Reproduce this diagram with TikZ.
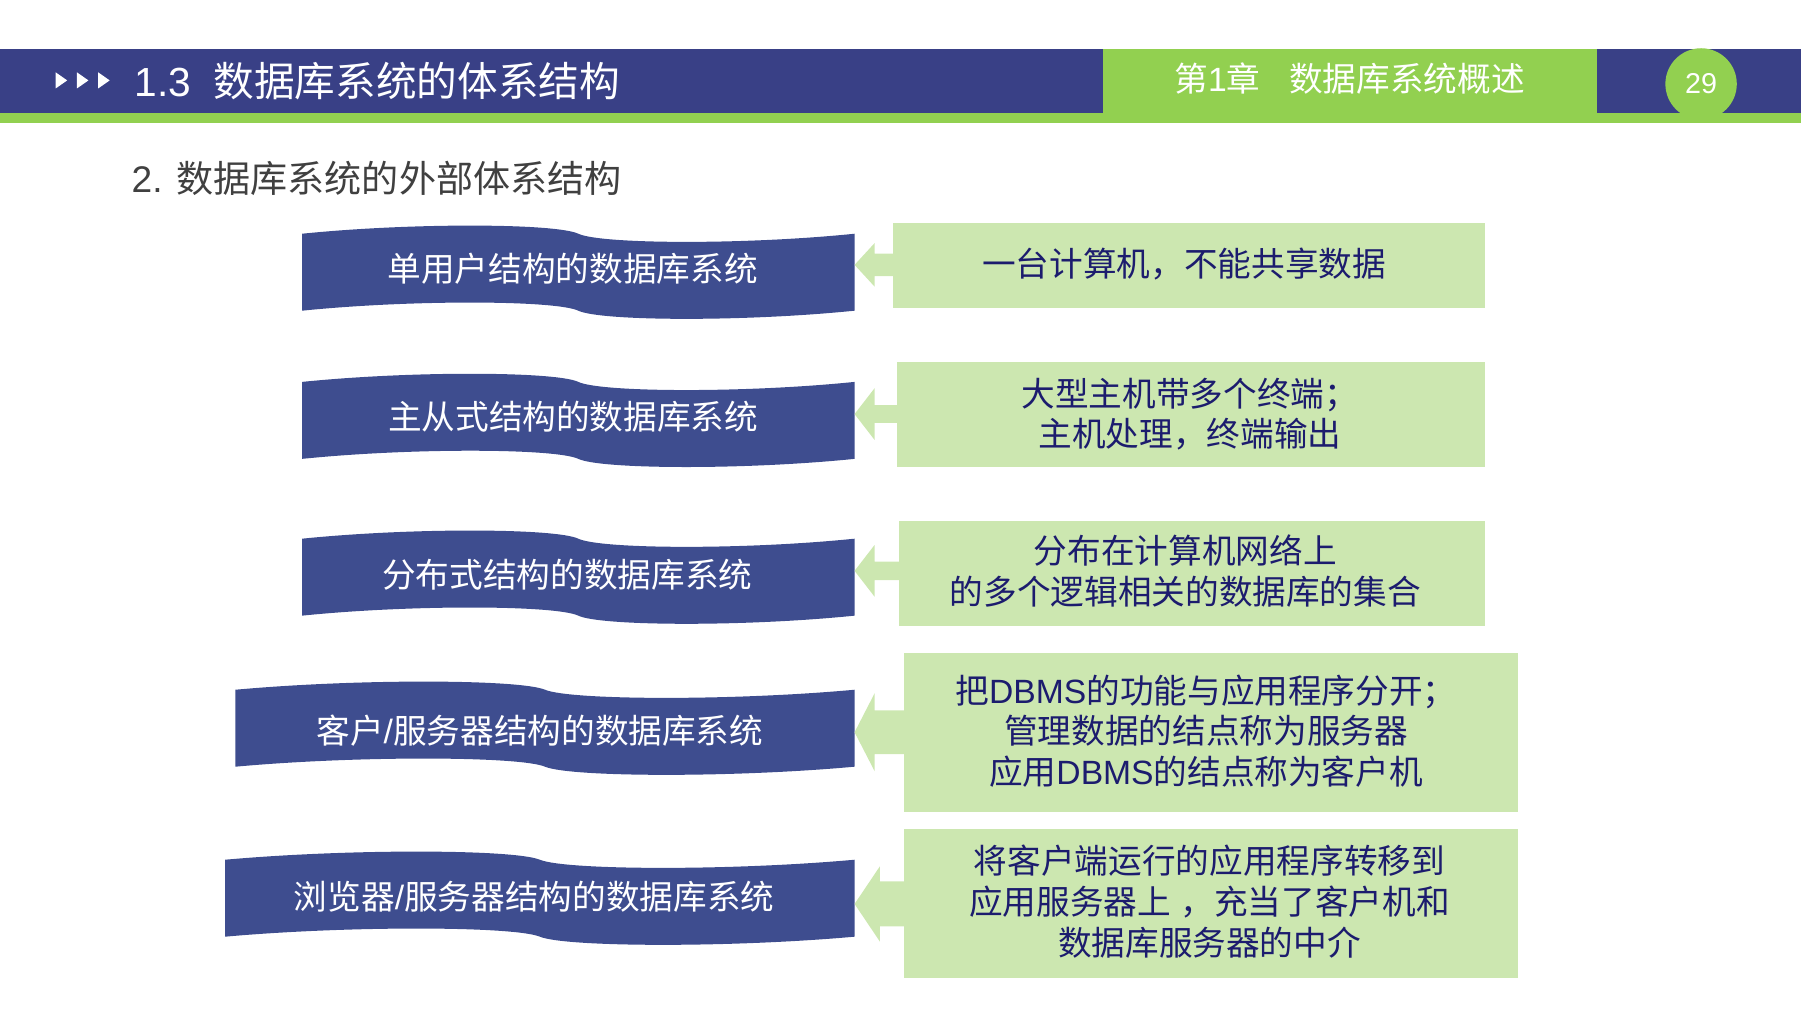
\documentclass[tikz,border=0pt]{standalone}
\usepackage{fontspec}
\setmainfont{Noto Sans CJK SC}
\newfontfamily\latf{Liberation Sans}
\definecolor{hdrblue}{HTML}{394086}
\definecolor{bnblue}{HTML}{3E4D8F}
\definecolor{hgreen}{HTML}{92D050}
\definecolor{lgreen}{HTML}{CCE7B0}
\definecolor{navytxt}{HTML}{1C1C6E}
\definecolor{subgray}{HTML}{404040}
\newcommand\wavebanner[5]{%
  \fill[bannerfill] (#1,#3)
    .. controls ({#1+0.2*(#2-#1)},{#3-1.4*#5}) and ({#1+0.46*(#2-#1)},{#3-1.3*#5}) .. ({#1+0.5*(#2-#1)},#3)
    .. controls ({#1+0.54*(#2-#1)},{#3+1.3*#5}) and ({#1+0.8*(#2-#1)},{#3+1.4*#5}) .. (#2,#3)
    -- (#2,{#3+#4})
    .. controls ({#1+0.8*(#2-#1)},{#3+#4+1.4*#5}) and ({#1+0.54*(#2-#1)},{#3+#4+1.3*#5}) .. ({#1+0.5*(#2-#1)},{#3+#4})
    .. controls ({#1+0.46*(#2-#1)},{#3+#4-1.3*#5}) and ({#1+0.2*(#2-#1)},{#3+#4-1.4*#5}) .. (#1,{#3+#4})
    -- cycle;}
% tip coordinate name, head length, head half height, shaft half height, shaft length
\newcommand\blockarrow[5]{%
  \fill[garrow] (#1) -- ++(#2,-#3) -- ++(0,{#3-#4}) -- ++(#5,0) -- ++(0,{2*#4}) -- ++(-#5,0) -- ++(0,{#3-#4}) -- cycle;}
\begin{document}
\begin{tikzpicture}[x=1pt,y=-1pt,
  bannerfill/.style={fill=bnblue},
  garrow/.style={fill=lgreen},
  gbox/.style={fill=lgreen,draw=none,inner sep=0pt},
  btext/.style={text=white,font=\fontsize{29.3}{35}\selectfont,inner sep=0pt},
  rtext/.style={text=navytxt,font=\fontsize{29.3}{35.5}\selectfont,align=center,inner sep=0pt},
  tri/.style={fill=white}]
\useasboundingbox (0,0) rectangle (1568,882);
% header
\fill[hdrblue] (0,42.6) rectangle (1568,98.3);
\fill[hgreen] (0,98.3) rectangle (1568,107);
\node[fill=hgreen,minimum width=430pt,minimum height=55.7pt,inner sep=0pt,anchor=north west] (chapbox) at (960,42.6) {};
\node[text=white,font=\fontsize{29.3}{35}\selectfont,inner sep=0pt] (chap) at (1175,68.2) {第{\latf 1}章\hspace{25pt}数据库系统概述};
\node[circle,fill=hgreen,minimum size=62.2pt,inner sep=0pt] (pgc) at (1481,73.1) {};
\node[text=white,font=\latf\fontsize{25}{30}\selectfont,inner sep=0pt] (pgn) at (1481,72.5) {29};
\foreach \tx in {48.5,67,85.5}{
  \fill[tri] (\tx,63) -- (\tx+10,70) -- (\tx,77) -- cycle;}
\node[text=white,font=\fontsize{35.4}{40}\selectfont,inner sep=0pt,anchor=west] (title) at (117,71) {{\latf 1.3}\hspace{19.4pt}数据库系统的体系结构};
\node[text=subgray,font=\fontsize{32.3}{38}\selectfont,inner sep=0pt,anchor=west] (sub) at (114.5,155.2) {{\latf 2. }数据库系统的外部体系结构};
% banners
\wavebanner{263}{744}{203.5}{67}{7}
\wavebanner{263}{744}{332.5}{67}{7}
\wavebanner{263}{744}{469}{67}{7}
\wavebanner{205}{744}{600.5}{67}{7}
\wavebanner{196}{744}{748.5}{67}{7}
\node[btext] (bt1) at (498.6,234) {单用户结构的数据库系统};
\node[btext] (bt2) at (499,363) {主从式结构的数据库系统};
\node[btext] (bt3) at (494,500) {分布式结构的数据库系统};
\node[btext] (bt4) at (470,636) {客户{\latf /}服务器结构的数据库系统};
\node[btext] (bt5) at (465,780.4) {浏览器{\latf /}服务器结构的数据库系统};
% arrows
\coordinate (t1) at (744,230.6);
\coordinate (t2) at (744,360.5);
\coordinate (t3) at (744,497);
\coordinate (t4) at (744,637.5);
\coordinate (t5) at (744,787);
\blockarrow{t1}{17.4}{18.9}{9.7}{25}
\blockarrow{t2}{17.4}{22.5}{7.7}{25}
\blockarrow{t3}{17.4}{22.5}{8}{25}
\blockarrow{t4}{17.5}{34}{19}{30}
\blockarrow{t5}{22}{32.7}{19.6}{30}
% right boxes
\node[gbox,minimum width=515.5pt,minimum height=73.4pt] (r1) at (1035.25,231.1) {};
\node[gbox,minimum width=512pt,minimum height=91.9pt] (r2) at (1037,360.75) {};
\node[gbox,minimum width=510.3pt,minimum height=92pt] (r3) at (1037.85,499.4) {};
\node[gbox,minimum width=535pt,minimum height=138.4pt] (r4) at (1054.3,637.8) {};
\node[gbox,minimum width=535pt,minimum height=130pt] (r5) at (1054.3,786.5) {};
\node[rtext] (rt1) at (1031,230) {一台计算机，不能共享数据};
\node[rtext] (rt2) at (1036,360.5) {大型主机带多个终端；\\主机处理，终端输出};
\node[rtext] (rt3) at (1032,497.5) {分布在计算机网络上\\的多个逻辑相关的数据库的集合};
\node[rtext] (rt4) at (1050,636.5) {把{\latf DBMS}的功能与应用程序分开；\\管理数据的结点称为服务器\\应用{\latf DBMS}的结点称为客户机};
\node[rtext] (rt5) at (1053,785) {将客户端运行的应用程序转移到\\应用服务器上{\latf\ }，充当了客户机和\\数据库服务器的中介};
\end{tikzpicture}
\end{document}
